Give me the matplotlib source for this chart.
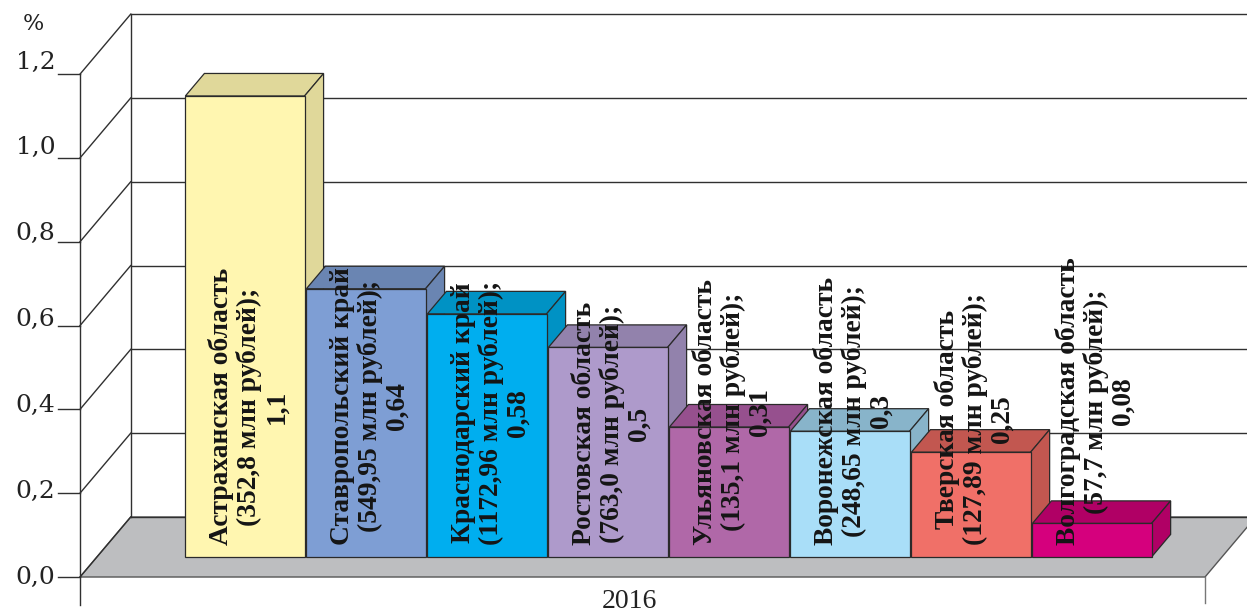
import matplotlib
matplotlib.use('Agg')
import matplotlib.pyplot as plt
from matplotlib.patches import Polygon

# ---------------- data ----------------
regions = ["Астраханская область", "Ставропольский край", "Краснодарский край",
           "Ростовская область", "Ульяновская область", "Воронежская область",
           "Тверская область", "Волгоградская область"]
amounts = ["352,8", "549,95", "1172,96", "763,0", "135,1", "248,65", "127,89", "57,7"]
shares = [1.1, 0.64, 0.58, 0.5, 0.31, 0.3, 0.25, 0.08]
share_labels = ["1,1", "0,64", "0,58", "0,5", "0,31", "0,3", "0,25", "0,08"]
y_ticks = [0.0, 0.2, 0.4, 0.6, 0.8, 1.0, 1.2]
y_tick_labels = ["0,0", "0,2", "0,4", "0,6", "0,8", "1,0", "1,2"]
category = "2016"
unit = "%"

front_colors = ["#FFF6B0", "#7E9ED4", "#00AEEF", "#AE9ACB",
                "#B068A8", "#A9DEF8", "#F07068", "#D5007D"]
dark_colors = ["#E0D89A", "#6A85B2", "#0092C4", "#9282AC",
               "#96508E", "#88B4CA", "#C25750", "#B00065"]

# ---------------- 3D projection setup ----------------
KX, KY = 0.419, 0.1432      # offset of the back wall (depth = 1)
ZF, ZB = 0.335, 0.71        # bar front / back depth
X_AXIS, X_RIGHT = -0.723, 8.574
YMAX = 1.2


def P(x, v, z):
    return (x + z * KX, v + z * KY)


fig = plt.figure(figsize=(12.47, 6.12), dpi=100)
ax = fig.add_axes([0, 0, 1, 1])
ax.set_xlim(-1.384, 8.921)
ax.set_ylim(-0.0835, 1.377)
ax.axis('off')

line_kw = dict(color="#303030", lw=1.0)

# floor
floor = Polygon([P(X_AXIS, 0, 0), P(X_RIGHT, 0, 0), P(X_RIGHT, 0, 1), P(X_AXIS, 0, 1)],
                closed=True, facecolor="#BDBEC0", edgecolor="#555555", lw=1.0, zorder=1)
ax.add_patch(floor)

# back wall grid + left wall diagonals + ticks
for t in y_ticks:
    (x0, y0), (x1, y1) = P(X_AXIS, t, 1), P(X_RIGHT, t, 1)
    ax.plot([x0, x1], [y0, y1], zorder=2, **line_kw)
    (a0, b0), (a1, b1) = P(X_AXIS, t, 0), P(X_AXIS, t, 1)
    ax.plot([a0, a1], [b0, b1], zorder=2, **line_kw)
    ax.plot([X_AXIS - 0.182, X_AXIS], [t, t], zorder=2, **line_kw)

# back-left vertical edge
(bx0, by0), (bx1, by1) = P(X_AXIS, 0, 1), P(X_AXIS, YMAX, 1)
ax.plot([bx0, bx1], [by0, by1], zorder=2, **line_kw)
# front vertical axis (extends slightly below floor)
ax.plot([X_AXIS, X_AXIS], [-0.067, YMAX], zorder=2, **line_kw)
# right lower edge tick
ax.plot([X_RIGHT, X_RIGHT], [-0.062, 0], zorder=2, color="#777777", lw=1.0)

# tick labels
for t, lbl in zip(y_ticks, y_tick_labels):
    ax.text(X_AXIS - 0.205, t * 1.024, lbl, ha='right', va='center',
            family='DejaVu Serif', fontsize=18, color="#222222", zorder=3)
ax.text(-1.11, 1.32, unit, ha='center', va='center', family='DejaVu Serif',
        fontsize=16, color="#222222")

# bars
w = 0.985
n = len(shares)
xs = [i + 0.5 + ZF * KX for i in range(n)]
bars = ax.bar(xs, shares, width=w, bottom=ZF * KY, color=front_colors,
              edgecolor="#2a2a2a", linewidth=0.9)
for i, (patch, h) in enumerate(zip(bars.patches, shares)):
    zo = 3 + i
    patch.set_zorder(zo + 0.5)
    xl, xr = i + 0.5 - w / 2, i + 0.5 + w / 2
    top = Polygon([P(xl, h, ZF), P(xr, h, ZF), P(xr, h, ZB), P(xl, h, ZB)], closed=True,
                  facecolor=dark_colors[i], edgecolor="#2a2a2a", lw=0.9, zorder=zo)
    side = Polygon([P(xr, 0, ZF), P(xr, h, ZF), P(xr, h, ZB), P(xr, 0, ZB)], closed=True,
                   facecolor=dark_colors[i], edgecolor="#2a2a2a", lw=0.9, zorder=zo)
    ax.add_patch(top)
    ax.add_patch(side)

# bar labels
for i in range(n):
    txt = f"{regions[i]}\n({amounts[i]} млн рублей);\n{share_labels[i]}"
    ax.text(xs[i] + 0.03, ZF * KY + 0.028, txt, rotation=90, ha='center', va='bottom',
            multialignment='center', family='Liberation Serif', fontweight='bold',
            fontsize=19.8, linespacing=1.1, color="#151515", zorder=30)

# category label
ax.text(3.82, -0.0575, category, ha='center', va='center', family='Liberation Serif',
        fontsize=20, color="#222222")

fig.savefig("out.png", dpi=100)
